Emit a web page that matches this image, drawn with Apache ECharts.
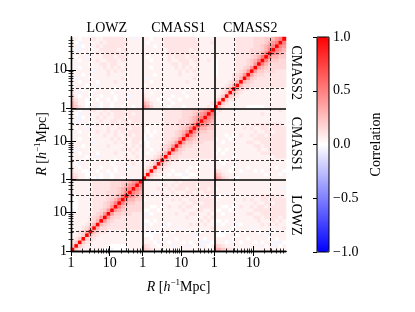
<!DOCTYPE html>
<html><head><meta charset="utf-8">
<script src="https://cdn.jsdelivr.net/npm/echarts@6/dist/echarts.min.js"></script>
<style>html,body{margin:0;padding:0;background:#fff}#c{width:415px;height:312px}</style>
</head><body><div id="c"></div>
<script>
// ---------- data ----------
const samples = ['LOWZ', 'CMASS1', 'CMASS2'];
const binsPerSample = 20;
const majorTickR = [1, 10];
const majorTickLabels = ['1', '10'];
const minorTickR = [2, 3, 4, 5, 6, 7, 8, 9, 20, 30, 40, 50, 60];
const binsPerDecade = 10.8;
const dashedGridBins = [5.5, 15.5];
const colorbarTicks = [-1, -0.5, 0, 0.5, 1];

const levelOf = {'b': -0.08, 'a': -0.04, '0': 0, '1': 0.05, '2': 0.1, '3': 0.15, '4': 0.2,
  '5': 0.3, '6': 0.4, '7': 0.5, '8': 0.6, '9': 0.75, 'X': 1};

// auto-correlation blocks, lower triangle, row r (small R first), columns 0..r
const lowzAuto = [
"X","4X","24X","124X","1124X","11235X","111235X","1111235X","11111235X","011112346X",
"0111112346X","a0111122346X","001111222346X","0011112223457X","00111122223457X",
"101111222233457X","1111112222333457X","11111122222334567X","111111222223334567X","1111112222233344567X"];
const cmass1Auto = [
"X","4X","24X","124X","1124X","01235X","111235X","1011235X","11011235X","101112346X",
"1011112346X","0a111122346X","010111222346X","1010112223457X","10111122223457X",
"111011222233457X","1111112222333457X","11111122222334567X","111111222223334567X","1111112222233344567X"];
const cmass2Auto = [
"X","5X","24X","124X","1124X","11235X","111235X","1111235X","11111235X","011112346X",
"0111112346X","01111122346X","011111222346X","0111112223457X","11111122223457X",
"111111222233457X","1111112222333457X","11111122222334567X","111111222223334567X","1111112222233344567X"];

// cross blocks: rows = later sample bins (bottom->top), cols = earlier sample bins (left->right)
const crossLowzCmass1 = [
"43110 10a01 10110 11111","32110 01101 a0111 11111","21100 a1011 01011 11111","11011 01101 11011 1a111",
"10a11 01111 10111 11211","11101 10111 11011 12111","01110 11a11 11111 21121","11011 11011 11211 11211",
"1a111 01111 11112 12121","11101 11111 21111 21212","01111 1a111 11212 11221","11011 11111 12121 21222",
"1a111 01112 11211 22122","11011 11211 21212 12222","1011a 11111 21122 21222","11101 a1211 12121 22212",
"1aa11 01121 12212 21222","11a01 11212 11222 12222","10a11 11121 21222 22122","11011 12112 12222 12222"];
const crossLowzCmass2 = [
"54210 11a01 10110 11011","53110 01101 10111 01111","42110 a1011 01011 11111","31011 01101 11011 1a111",
"21a11 01111 10111 11111","11101 10111 11011 11111","01110 11a11 11111 11111","11011 11011 11211 11111",
"1a111 01111 11112 11111","11101 11111 21111 11111","01111 1a111 21212 11111","11011 11112 12121 21111",
"1a111 01122 12211 11111","11011 11211 22212 21111","1011a 11112 22122 21111","11101 a1212 22221 21111",
"1aa11 01122 22212 21111","11a01 11212 22222 11111","10a11 11121 22222 21111","11011 12112 22222 11a11"];
const crossCmass1Cmass2 = [
"65311 11011 10111 11121","54211 01101 11111 11112","32110 11011 01111 11111","21111 01101 11011 11111",
"11011 11111 10111 11111","11101 10111 11011 11111","01111 11111 11111 11111","11011 11111 11211 11111",
"1a111 11111 11112 11111","11101 11111 21111 21111","11111 11111 21212 11111","11011 11112 12121 21111",
"11111 11122 12211 21111","11011 11211 22212 21121","10111 11212 22122 21111","11111 11222 22221 21111",
"11111 11222 22212 21111","11101 12222 22222 21111","10111 12222 22222 21112","11011 12222 22222 11111"];

// ---------- build matrix ----------
const NB = binsPerSample, N = NB * samples.length;
const parse = s => s.replace(/\s+/g, '').split('').map(ch => levelOf[ch] ?? 0);
const autoBlocks = [lowzAuto, cmass1Auto, cmass2Auto].map(b => b.map(parse));
const crossBlocks = {'0-1': crossLowzCmass1.map(parse), '0-2': crossLowzCmass2.map(parse), '1-2': crossCmass1Cmass2.map(parse)};
function corr(i, j) {
  const bi = Math.floor(i / NB), bj = Math.floor(j / NB), ri = i % NB, cj = j % NB;
  if (bi === bj) { const r = Math.max(ri, cj), c = Math.min(ri, cj); return (autoBlocks[bi][r] || [])[c] ?? 0; }
  if (bi > bj) return (crossBlocks[bj + '-' + bi][ri] || [])[cj] ?? 0;
  return (crossBlocks[bi + '-' + bj][cj] || [])[ri] ?? 0;
}
const cats = Array.from({length: N}, (_, k) => String(k));
const heat = [];
for (let i = 0; i < N; i++) for (let j = 0; j < N; j++) heat.push([j, i, corr(i, j)]);

// ---------- ticks ----------
const rPos = r => Math.log10(r) * binsPerDecade;
const majorPos = [], majorLab = [], minorPos = [], blockCenters = [], gridPos = [], blockEdges = [];
samples.forEach((s, b) => {
  majorTickR.forEach((r, k) => { majorPos.push(b * NB + rPos(r)); majorLab.push(majorTickLabels[k]); });
  minorTickR.forEach(r => minorPos.push(b * NB + rPos(r)));
  dashedGridBins.forEach(g => gridPos.push(b * NB + g));
  blockCenters.push(b * NB + NB / 2);
  if (b > 0) blockEdges.push(b * NB);
});
const labAt = v => { let k = 0, d = 1e9; majorPos.forEach((p, i) => { if (Math.abs(p - v) < d) { d = Math.abs(p - v); k = i; } }); return majorLab[k]; };
const nameAt = v => { let k = 0, d = 1e9; blockCenters.forEach((p, i) => { if (Math.abs(p - v) < d) { d = Math.abs(p - v); k = i; } }); return samples[k]; };

// ---------- styles ----------
const ff = "'Liberation Serif','DejaVu Serif',serif";
const black = '#000';
const frame = {show: true, lineStyle: {color: black, width: 1.3}};
const lab = {color: black, fontFamily: ff, fontSize: 14};
const G = {left: 71, top: 37, width: 215, height: 214};
const richName = {
  fontFamily: ff, fontSize: 14, color: black,
  rich: {
    i: {fontFamily: ff, fontSize: 14, fontStyle: 'italic', color: black},
    n: {fontFamily: ff, fontSize: 14, color: black},
    s: {fontFamily: ff, fontSize: 9, color: black, verticalAlign: 'top', lineHeight: 18}
  }
};
const axisName = '{i|R}{n| [}{i|h}{s|−1}{n|Mpc]}';

function majorAxis(pos, extra) {
  return Object.assign({
    gridIndex: 1, type: 'value', min: 0, max: N, position: pos, z: 10,
    axisLine: frame,
    axisTick: {show: true, inside: true, length: 5, customValues: majorPos, lineStyle: {color: black, width: 1}},
    splitLine: {show: false}
  }, extra);
}
function minorAxis(pos) {
  return {
    gridIndex: 2, type: 'value', min: 0, max: N, position: pos, z: 10,
    axisLine: {show: false},
    axisTick: {show: true, inside: true, length: 2.5, customValues: minorPos, lineStyle: {color: black, width: 0.8}},
    axisLabel: {show: false}, splitLine: {show: false}
  };
}
const dash = {color: black, type: [3, 2], width: 0.8};
const solid = {color: black, type: 'solid', width: 1.6};
const mlData = [
  ...gridPos.map(v => ({xAxis: v, lineStyle: dash})),
  ...gridPos.map(v => ({yAxis: v, lineStyle: dash})),
  ...blockEdges.map(v => ({xAxis: v, lineStyle: solid})),
  ...blockEdges.map(v => ({yAxis: v, lineStyle: solid}))
];
const cbFmt = v => (Math.abs(v) < 1e-9 ? '0.0' : (v < 0 ? '−' : '') + Math.abs(v).toFixed(1));

const option = {
  animation: false,
  backgroundColor: '#fff',
  grid: [
    Object.assign({}, G),
    Object.assign({}, G),
    Object.assign({}, G),
    {left: 317, top: 37, width: 12, height: 215, show: true, borderColor: black, borderWidth: 1, backgroundColor: 'transparent', z: 10}
  ],
  xAxis: [
    {gridIndex: 0, type: 'category', data: cats, show: false},
    majorAxis('bottom', {
      axisLabel: Object.assign({customValues: majorPos, formatter: v => labAt(v), margin: 5}, lab),
      name: axisName, nameLocation: 'middle', nameGap: 27, nameMoveOverlap: false, nameTextStyle: richName
    }),
    majorAxis('top', {
      axisLabel: Object.assign({customValues: blockCenters, formatter: v => nameAt(v), margin: 2}, lab)
    }),
    minorAxis('bottom'),
    minorAxis('top'),
    {gridIndex: 3, type: 'value', show: false}
  ],
  yAxis: [
    {gridIndex: 0, type: 'category', data: cats, show: false},
    majorAxis('left', {
      axisLabel: Object.assign({customValues: majorPos, formatter: v => labAt(v), margin: 4}, lab),
      name: axisName, nameLocation: 'middle', nameGap: 20, nameRotate: 90, nameMoveOverlap: false, nameTextStyle: richName
    }),
    majorAxis('right', {
      axisLabel: Object.assign({customValues: blockCenters, formatter: v => nameAt(v), margin: 3, rotate: -90}, lab)
    }),
    minorAxis('left'),
    minorAxis('right'),
    {
      gridIndex: 3, type: 'value', min: -1, max: 1, interval: 0.5, position: 'right', z: 11,
      axisLine: {show: false},
      axisTick: {show: true, inside: true, length: 4, lineStyle: {color: black, width: 1}},
      axisLabel: Object.assign({formatter: cbFmt, margin: 4}, lab),
      splitLine: {show: false},
      name: 'Correlation', nameLocation: 'middle', nameRotate: 90, nameGap: 40, nameMoveOverlap: false,
      nameTextStyle: {fontFamily: ff, fontSize: 14, color: black}
    }
  ],
  visualMap: {
    type: 'continuous', show: true, min: -1, max: 1, calculable: false, hoverLink: false,
    seriesIndex: 0, left: 317, top: 37, itemWidth: 12, itemHeight: 215, padding: 0,
    text: null, inRange: {color: ['#0000ff', '#ffffff', '#ff0000']}
  },
  series: [
    {type: 'heatmap', xAxisIndex: 0, yAxisIndex: 0, data: heat, z: 2, progressive: 0,
     itemStyle: {borderWidth: 0}, emphasis: {disabled: true}, silent: true},
    {type: 'line', xAxisIndex: 1, yAxisIndex: 1, data: [], z: 10, silent: true,
     markLine: {silent: true, symbol: ['none', 'none'], label: {show: false}, animation: false, data: mlData}}
  ]
};
const chart = echarts.init(document.getElementById('c'), null, {renderer: 'canvas'});
chart.setOption(option);
</script></body></html>
